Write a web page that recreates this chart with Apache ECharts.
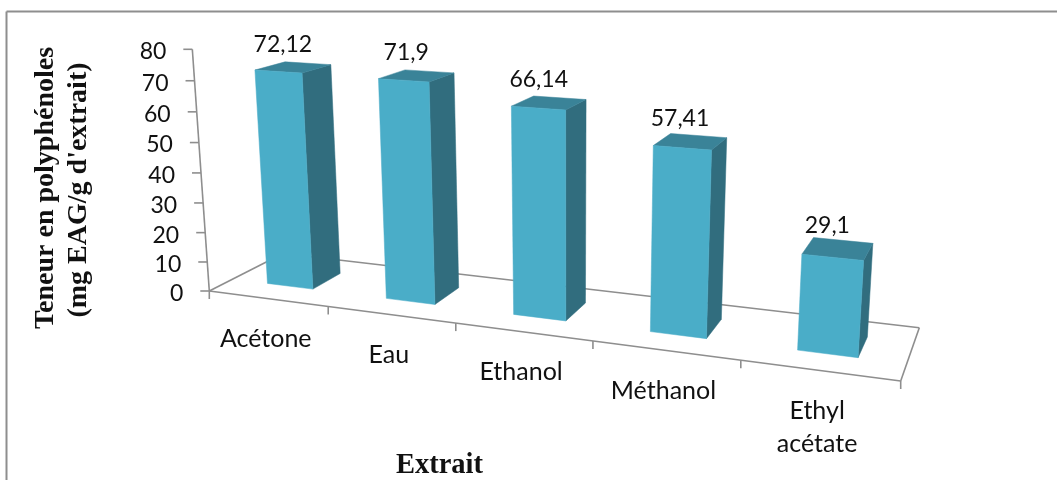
<!DOCTYPE html>
<html>
<head>
<meta charset="utf-8">
<style>html,body{margin:0;padding:0;background:#fff}#chart{width:1057px;height:480px}</style>
<script src="https://cdn.jsdelivr.net/npm/echarts@6/dist/echarts.min.js"></script>
</head>
<body>
<div id="chart"></div>
<script>
// Extract yields, in mg EAG per g of extract
const categories = ['Acétone', 'Eau', 'Ethanol', 'Méthanol', 'Ethyl\nacétate'];
const values = [72.12, 71.9, 66.14, 57.41, 29.1];
const yTicks = [0, 10, 20, 30, 40, 50, 60, 70, 80];
const yMax = 80;

// Perspective camera: floor corners, top of the value wall and the vertical vanishing point
const floorFrontLeft = [209.3, 291];
const floorFrontRight = [900.7, 381];
const floorBackRight = [919.3, 327.7];
const floorBackLeft = [283, 253.5];
const wallTopY = 49.3;
const verticalVanish = [570, 5426];

const barWidth = 0.39;       // share of a category band
const depthFront = 0.3;      // bar footprint across the floor depth
const depthBack = 0.7;

const faceFront = '#4aadc8';
const faceSide = '#316d7e';
const faceTop = '#3a8398';
const axisColor = '#8e8e8e';
const textColor = '#111';
const sansFont = 'Lato';
const serifFont = '"Liberation Serif"';

// Floor homography from the unit square (Heckbert's closed form), extended with a height term
function makeProjection() {
  const [x0, y0] = floorFrontLeft, [x1, y1] = floorFrontRight;
  const [x2, y2] = floorBackRight, [x3, y3] = floorBackLeft;
  const dx1 = x1 - x2, dx2 = x3 - x2, sx = x0 - x1 + x2 - x3;
  const dy1 = y1 - y2, dy2 = y3 - y2, sy = y0 - y1 + y2 - y3;
  const det = dx1 * dy2 - dx2 * dy1;
  const g = (sx * dy2 - dx2 * sy) / det, h = (dx1 * sy - sx * dy1) / det;
  const a = x1 - x0 + g * x1, b = x3 - x0 + h * x3;
  const d = y1 - y0 + g * y1, e = y3 - y0 + h * y3;
  const k = (y0 - wallTopY) / (wallTopY - verticalVanish[1]);
  return function (s, t, n) {
    const w = g * s + h * t + 1 + k * n;
    return [
      (a * s + b * t + x0 + k * n * verticalVanish[0]) / w,
      (d * s + e * t + y0 + k * n * verticalVanish[1]) / w
    ];
  };
}
const project = makeProjection();

// Turn a pixel of the flat cartesian grid into the fractions used by the projection
function unfold(cs, p) {
  return [(p[0] - cs.x) / cs.width, (cs.y + cs.height - p[1]) / cs.height];
}
function poly(points, fill) {
  return { type: 'polygon', shape: { points: points }, style: { fill: fill, stroke: fill, lineWidth: 0.5 } };
}
function line(p, q) {
  return { type: 'line', shape: { x1: p[0], y1: p[1], x2: q[0], y2: q[1] }, style: { stroke: axisColor, lineWidth: 1.6 } };
}
function text(str, x, y, opts) {
  return {
    type: 'text', x: x, y: y,
    style: Object.assign({ text: str, fill: textColor, fontFamily: sansFont, fontSize: 23, align: 'center', verticalAlign: 'middle' }, opts || {})
  };
}

function renderFloor(params, api) {
  const o = project(0, 0, 0), a = project(1, 0, 0), b = project(1, 1, 0), c = project(0, 1, 0);
  return { type: 'group', children: [line(o, a), line(a, b), line(b, c), line(c, o), line(o, project(0, 0, 1))] };
}

function renderYTick(params, api) {
  const cs = params.coordSys;
  const n = unfold(cs, api.coord([0, api.value(0)]))[1];
  const p = project(0, 0, n);
  return {
    type: 'group',
    children: [
      line(p, [p[0] - 9, p[1]]),
      text(String(api.value(0)), p[0] - 26, p[1] + 2.5, { align: 'right' })
    ]
  };
}

function renderXTick(params, api) {
  const cs = params.coordSys;
  const band = api.size([1, 0])[0];
  const i = params.dataIndex;
  const centre = api.coord([i, 0]);
  const s = unfold(cs, [centre[0] + band / 2, centre[1]])[0];
  const mid = project(unfold(cs, centre)[0], 0, 0);
  const p = project(s, 0, 0);
  const children = [line(p, [p[0], p[1] + 8]), text(categories[i], mid[0] - 2, mid[1] + 24, { verticalAlign: 'top', lineHeight: 33, fontSize: 25 })];
  if (i === 0) {
    const o = project(0, 0, 0);
    children.push(line(o, [o[0], o[1] + 8]));
  }
  return { type: 'group', children: children };
}

function renderBar(params, api) {
  const cs = params.coordSys;
  const band = api.size([1, 0])[0];
  const top = api.coord([api.value(0), api.value(1)]);
  const s0 = unfold(cs, [top[0] - band * barWidth / 2, top[1]])[0];
  const s1 = unfold(cs, [top[0] + band * barWidth / 2, top[1]])[0];
  const n = unfold(cs, top)[1];
  const f = depthFront, g = depthBack;
  const centre = project((s0 + s1) / 2, (f + g) / 2, n);
  return {
    type: 'group',
    children: [
      poly([project(s1, f, 0), project(s1, g, 0), project(s1, g, n), project(s1, f, n)], faceSide),
      poly([project(s0, f, n), project(s1, f, n), project(s1, g, n), project(s0, g, n)], faceTop),
      poly([project(s0, f, 0), project(s1, f, 0), project(s1, f, n), project(s0, f, n)], faceFront),
      text(String(api.value(1)).replace('.', ','), centre[0] - 10.5, centre[1] - 23)
    ]
  };
}

const chart = echarts.init(document.getElementById('chart'), null, { renderer: 'canvas' });
chart.setOption({
  animation: false,
  backgroundColor: '#fff',
  grid: { left: 209, top: 49, width: 692, height: 242 },
  xAxis: { type: 'category', data: categories, show: false },
  yAxis: { type: 'value', min: 0, max: yMax, interval: 10, show: false },
  graphic: [
    { type: 'line', shape: { x1: 6.5, y1: 11.5, x2: 1057, y2: 11.5 }, style: { stroke: axisColor, lineWidth: 2 }, silent: true },
    { type: 'line', shape: { x1: 6.5, y1: 11.5, x2: 6.5, y2: 480 }, style: { stroke: axisColor, lineWidth: 2 }, silent: true },
    { type: 'text', x: 46, y: 188, rotation: Math.PI / 2, style: { text: 'Teneur en polyphénoles', fill: textColor, fontFamily: serifFont, fontWeight: 'bold', fontSize: 28, align: 'center', verticalAlign: 'middle' } },
    { type: 'text', x: 79, y: 190, rotation: Math.PI / 2, style: { text: "(mg EAG/g d'extrait)", fill: textColor, fontFamily: serifFont, fontWeight: 'bold', fontSize: 28, align: 'center', verticalAlign: 'middle' } },
    { type: 'text', x: 439.5, y: 466, style: { text: 'Extrait', fill: textColor, fontFamily: serifFont, fontWeight: 'bold', fontSize: 28.5, align: 'center', verticalAlign: 'middle' } }
  ],
  series: [
    { type: 'custom', coordinateSystem: 'cartesian2d', renderItem: renderFloor, data: [0], encode: { x: 0, y: 0 }, silent: true, z: 1 },
    { type: 'custom', coordinateSystem: 'cartesian2d', renderItem: renderYTick, data: yTicks.map(v => [v]), encode: { y: 0 }, silent: true, z: 2 },
    { type: 'custom', coordinateSystem: 'cartesian2d', renderItem: renderXTick, data: categories.map((c, i) => [i]), encode: { x: 0 }, silent: true, z: 2 },
    { type: 'custom', coordinateSystem: 'cartesian2d', renderItem: renderBar, data: values.map((v, i) => [i, v]), encode: { x: 0, y: 1 }, silent: true, z: 3 }
  ]
});
</script>
</body>
</html>
